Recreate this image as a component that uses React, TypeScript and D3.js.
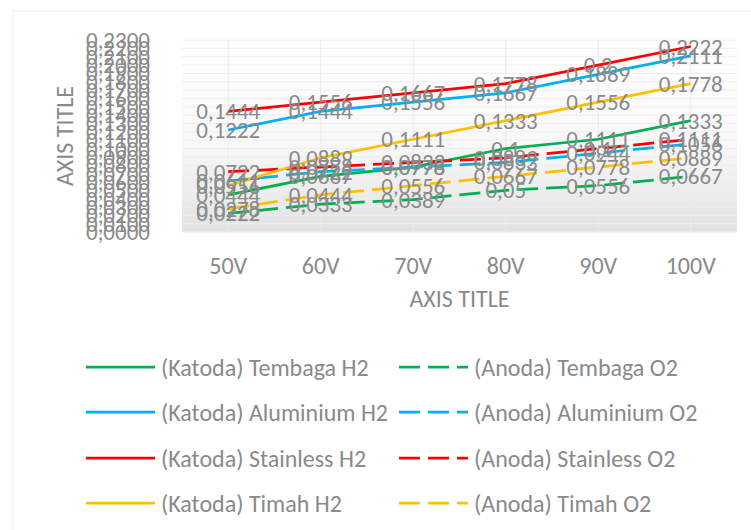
import React from "react";
import * as d3 from "d3";

const categories = ["50V", "60V", "70V", "80V", "90V", "100V"];
const tembagaH2 = [0.0444, 0.0667, 0.0778, 0.1, 0.1111, 0.1333];
const tembagaO2 = [0.0222, 0.0333, 0.0389, 0.05, 0.0556, 0.0667];
const aluminiumH2 = [0.1222, 0.1444, 0.1556, 0.1667, 0.1889, 0.2111];
const aluminiumO2 = [0.0611, 0.0722, 0.0778, 0.0833, 0.0944, 0.1056];
const stainlessH2 = [0.1444, 0.1556, 0.1667, 0.1778, 0.2, 0.2222];
const stainlessO2 = [0.0722, 0.0778, 0.0833, 0.0889, 0.1, 0.1111];
const timahH2 = [0.0556, 0.0889, 0.1111, 0.1333, 0.1556, 0.1778];
const timahO2 = [0.0278, 0.0444, 0.0556, 0.0667, 0.0778, 0.0889];
const yTicks = d3.range(0, 24).map((i) => i / 100);

const series = [
  { name: "(Katoda) Tembaga H2", values: tembagaH2, color: "#00b050", dashed: false },
  { name: "(Anoda) Tembaga O2", values: tembagaO2, color: "#00b050", dashed: true },
  { name: "(Katoda) Aluminium H2", values: aluminiumH2, color: "#00b0f0", dashed: false },
  { name: "(Anoda) Aluminium O2", values: aluminiumO2, color: "#00b0f0", dashed: true },
  { name: "(Katoda) Stainless H2", values: stainlessH2, color: "#ff0000", dashed: false },
  { name: "(Anoda) Stainless O2", values: stainlessO2, color: "#ff0000", dashed: true },
  { name: "(Katoda) Timah H2", values: timahH2, color: "#ffc000", dashed: false },
  { name: "(Anoda) Timah O2", values: timahO2, color: "#ffc000", dashed: true },
];

const W = 751;
const H = 530;
const plot = { left: 182, right: 737, top: 40, bottom: 232 };
const FONT = "Carlito, Calibri, Lato, sans-serif";
const TXT = "#8a8a8a";
const DASH = "21 8";

export default function App() {
  const x = d3.scaleBand<string>().domain(categories).range([plot.left, plot.right]);
  const cx = (c: string) => (x(c) as number) + x.bandwidth() / 2;
  const y = d3.scaleLinear().domain([0, 0.23]).range([plot.bottom, plot.top]);
  const line = d3
    .line<number>()
    .x((_, i) => cx(categories[i]))
    .y((d) => y(d));
  const fmtTick = (v: number) => d3.format(".4f")(v).replace(".", ",");
  const fmtLabel = (v: number) => String(v).replace(".", ",");

  const legendRows = [367, 412, 458, 503];
  const legendCols = [
    { x1: 86, x2: 155, tx: 161 },
    { x1: 399, x2: 468, tx: 474 },
  ];

  return (
    <svg
      width={W}
      height={H}
      style={{ position: "absolute", left: 0, top: 0, background: "#fff" }}
      fontFamily={FONT}
    >
      <defs>
        <linearGradient id="bg" x1="0" y1="0" x2="0" y2="1">
          <stop offset="0%" stopColor="#ffffff" />
          <stop offset="55%" stopColor="#f8f8f8" />
          <stop offset="100%" stopColor="#e2e2e2" />
        </linearGradient>
      </defs>
      <rect x={13} y={11} width={W + 20} height={H + 20} fill="#fff" stroke="#eeeeee" strokeWidth={1} />
      <rect
        x={plot.left}
        y={plot.top}
        width={plot.right - plot.left}
        height={plot.bottom - plot.top}
        fill="url(#bg)"
      />
      {yTicks.map((t) => (
        <line key={"g" + t} x1={plot.left} x2={plot.right} y1={y(t)} y2={y(t)} stroke="#eeeeee" strokeWidth={1} />
      ))}
      {categories.map((c) => (
        <line key={"v" + c} x1={cx(c)} x2={cx(c)} y1={plot.top} y2={plot.bottom} stroke="#eaeaea" strokeWidth={1} />
      ))}
      {yTicks.map((t) => (
        <text key={"t" + t} x={150} y={y(t)} textAnchor="end" dominantBaseline="central" fontSize={23} fill={TXT}>
          {fmtTick(t)}
        </text>
      ))}
      {categories.map((c) => (
        <text key={"c" + c} x={cx(c)} y={265} textAnchor="middle" dominantBaseline="central" fontSize={24} fill={TXT}>
          {c}
        </text>
      ))}
      <text x={(plot.left + plot.right) / 2} y={298} textAnchor="middle" dominantBaseline="central" fontSize={24} fill={TXT}>
        AXIS TITLE
      </text>
      <text
        transform={`translate(64, ${(plot.top + plot.bottom) / 2}) rotate(-90)`}
        textAnchor="middle"
        dominantBaseline="central"
        fontSize={24}
        fill={TXT}
      >
        AXIS TITLE
      </text>
      {series.map((s) => (
        <path
          key={"l" + s.name}
          d={line(s.values) as string}
          fill="none"
          stroke={s.color}
          strokeWidth={2.75}
          strokeDasharray={s.dashed ? DASH : undefined}
          strokeLinejoin="round"
        />
      ))}
      {series.map((s) =>
        s.values.map((v, i) => (
          <text
            key={"d" + s.name + i}
            x={cx(categories[i])}
            y={y(v)}
            textAnchor="middle"
            dominantBaseline="central"
            fontSize={23}
            fill={TXT}
          >
            {fmtLabel(v)}
          </text>
        ))
      )}
      {series.map((s, i) => {
        const col = legendCols[i % 2];
        const ry = legendRows[Math.floor(i / 2)];
        return (
          <g key={"lg" + s.name}>
            <line
              x1={col.x1}
              x2={col.x2}
              y1={ry}
              y2={ry}
              stroke={s.color}
              strokeWidth={2.75}
              strokeDasharray={s.dashed ? DASH : undefined}
            />
            <text x={col.tx} y={ry} dominantBaseline="central" fontSize={24} fill={TXT}>
              {s.name}
            </text>
          </g>
        );
      })}
    </svg>
  );
}
